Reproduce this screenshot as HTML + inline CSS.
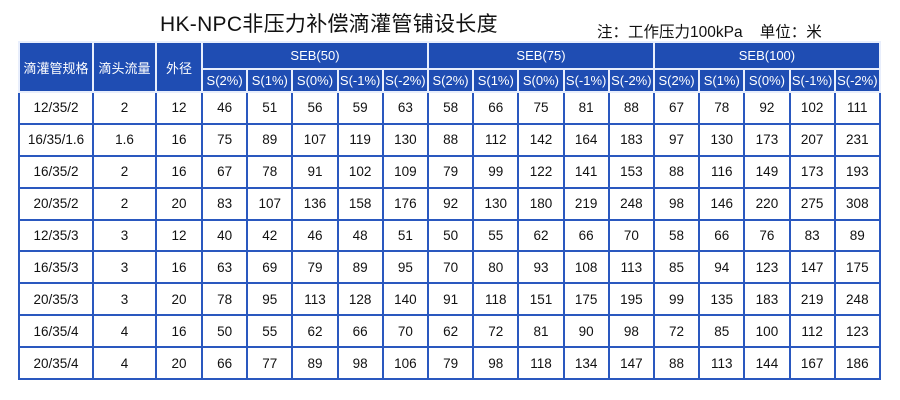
<!DOCTYPE html>
<html><head><meta charset="utf-8"><style>
html,body{margin:0;padding:0;background:#fff;}
body{width:900px;height:400px;position:relative;overflow:hidden;font-family:"Liberation Sans","Noto Sans CJK SC",sans-serif;}
.title{position:absolute;left:160px;top:8px;font-size:21px;color:#111;letter-spacing:0.3px;}
.note{position:absolute;left:597px;top:20px;font-size:15.5px;color:#111;}
table{position:absolute;left:18px;top:41px;border-collapse:collapse;table-layout:fixed;width:862px;}
td,th{border:2px solid #2a58bf;text-align:center;padding:0;overflow:hidden;white-space:nowrap;}
th{background:#1f4db3;color:#fff;font-weight:normal;font-size:13px;border-color:#e8eefc;}
tr.h1 th{height:25px;}
tr.h2 th{height:21px;}
td{height:29.9px;font-size:13.5px;color:#111;}
</style></head><body>
<div class="title">HK-NPC非压力补偿滴灌管铺设长度</div>
<div class="note">注：工作压力100kPa&nbsp;&nbsp;&nbsp;&nbsp;单位：米</div>
<table>
<colgroup><col style="width:74px"><col style="width:63px"><col style="width:46px">
<col span="15" style="width:45.2px"></colgroup>
<tr class="h1"><th rowspan="2">滴灌管规格</th><th rowspan="2">滴头流量</th><th rowspan="2">外径</th><th colspan="5">SEB(50)</th><th colspan="5">SEB(75)</th><th colspan="5">SEB(100)</th></tr>
<tr class="h2"><th>S(2%)</th><th>S(1%)</th><th>S(0%)</th><th>S(-1%)</th><th>S(-2%)</th><th>S(2%)</th><th>S(1%)</th><th>S(0%)</th><th>S(-1%)</th><th>S(-2%)</th><th>S(2%)</th><th>S(1%)</th><th>S(0%)</th><th>S(-1%)</th><th>S(-2%)</th></tr>
<tr><td>12/35/2</td><td>2</td><td>12</td><td>46</td><td>51</td><td>56</td><td>59</td><td>63</td><td>58</td><td>66</td><td>75</td><td>81</td><td>88</td><td>67</td><td>78</td><td>92</td><td>102</td><td>111</td></tr>
<tr><td>16/35/1.6</td><td>1.6</td><td>16</td><td>75</td><td>89</td><td>107</td><td>119</td><td>130</td><td>88</td><td>112</td><td>142</td><td>164</td><td>183</td><td>97</td><td>130</td><td>173</td><td>207</td><td>231</td></tr>
<tr><td>16/35/2</td><td>2</td><td>16</td><td>67</td><td>78</td><td>91</td><td>102</td><td>109</td><td>79</td><td>99</td><td>122</td><td>141</td><td>153</td><td>88</td><td>116</td><td>149</td><td>173</td><td>193</td></tr>
<tr><td>20/35/2</td><td>2</td><td>20</td><td>83</td><td>107</td><td>136</td><td>158</td><td>176</td><td>92</td><td>130</td><td>180</td><td>219</td><td>248</td><td>98</td><td>146</td><td>220</td><td>275</td><td>308</td></tr>
<tr><td>12/35/3</td><td>3</td><td>12</td><td>40</td><td>42</td><td>46</td><td>48</td><td>51</td><td>50</td><td>55</td><td>62</td><td>66</td><td>70</td><td>58</td><td>66</td><td>76</td><td>83</td><td>89</td></tr>
<tr><td>16/35/3</td><td>3</td><td>16</td><td>63</td><td>69</td><td>79</td><td>89</td><td>95</td><td>70</td><td>80</td><td>93</td><td>108</td><td>113</td><td>85</td><td>94</td><td>123</td><td>147</td><td>175</td></tr>
<tr><td>20/35/3</td><td>3</td><td>20</td><td>78</td><td>95</td><td>113</td><td>128</td><td>140</td><td>91</td><td>118</td><td>151</td><td>175</td><td>195</td><td>99</td><td>135</td><td>183</td><td>219</td><td>248</td></tr>
<tr><td>16/35/4</td><td>4</td><td>16</td><td>50</td><td>55</td><td>62</td><td>66</td><td>70</td><td>62</td><td>72</td><td>81</td><td>90</td><td>98</td><td>72</td><td>85</td><td>100</td><td>112</td><td>123</td></tr>
<tr><td>20/35/4</td><td>4</td><td>20</td><td>66</td><td>77</td><td>89</td><td>98</td><td>106</td><td>79</td><td>98</td><td>118</td><td>134</td><td>147</td><td>88</td><td>113</td><td>144</td><td>167</td><td>186</td></tr>
</table>
</body></html>
